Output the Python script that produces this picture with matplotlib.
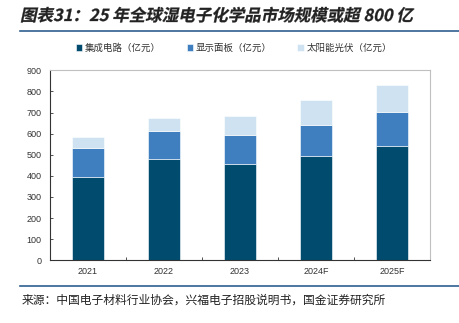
import numpy as np
import matplotlib.pyplot as plt
from matplotlib.lines import Line2D
from matplotlib.patches import Patch, PathPatch
from matplotlib.textpath import TextPath
from matplotlib.font_manager import FontProperties
from matplotlib.transforms import Affine2D

plt.rcParams['font.family'] = ['Noto Sans CJK SC', 'DejaVu Sans']

years = ['2021', '2022', '2023', '2024F', '2025F']
ic = [393, 481, 458, 495, 541]          # 集成电路
panel = [137, 130, 136, 145, 161]       # 显示面板
solar = [54, 63, 91, 119, 128]          # 太阳能光伏
series_names = ['集成电路（亿元）', '显示面板（亿元）', '太阳能光伏（亿元）']
colors = ['#004B6E', '#3F7FBF', '#CFE2F2']
title = '图表31：25 年全球湿电子化学品市场规模或超 800 亿'
source = '来源：中国电子材料行业协会，兴福电子招股说明书，国金证券研究所'

fig = plt.figure(figsize=(4.59, 3.23), dpi=100)
W, H = 459, 323
ax = fig.add_axes([50 / W, 1 - 260.3 / H, 380 / W, 190 / H])

ind = np.arange(len(years))
width = 0.41
bottom = np.zeros(len(years))
for vals, c in zip([ic, panel, solar], colors):
    ax.bar(ind, vals, width=width, bottom=bottom, color=c,
           edgecolor='white', linewidth=0.4, zorder=2)
    bottom += np.array(vals)

ax.set_xlim(-0.5, len(years) - 0.5)
ax.set_ylim(0, 900)
ax.set_yticks(np.arange(0, 901, 100))
ax.set_xticks(ind)
ax.set_xticklabels(years, fontsize=6.5, family='Liberation Sans', color='#333333')
ax.set_xticks(np.arange(0.5, len(years) - 0.5, 1), minor=True)
ax.tick_params(axis='x', which='major', length=0, pad=5)
ax.tick_params(axis='x', which='minor', direction='in', length=2.5, width=0.6, color='#333333')
ax.tick_params(axis='y', direction='in', length=2.5, width=0.6, color='#333333',
               labelsize=6.5, pad=6)
for lab in ax.get_yticklabels():
    lab.set_family('Liberation Sans')
    lab.set_color('#333333')

for s in ['top', 'right']:
    ax.spines[s].set_color('#BFBFBF')
    ax.spines[s].set_linewidth(0.8)
for s in ['left', 'bottom']:
    ax.spines[s].set_color('#333333')
    ax.spines[s].set_linewidth(0.8)

handles = [Patch(facecolor=c, edgecolor='white', linewidth=0.4) for c in colors]
fig.legend(handles, series_names, loc='center', bbox_to_anchor=(234 / W, 1 - 48 / H),
           ncol=3, frameon=False, fontsize=6.8, handlelength=0.7, handleheight=0.7,
           handletextpad=0.3, columnspacing=2.7, labelcolor='#333333')

# slanted (fake italic) title, drawn in pixel coordinates
tp = TextPath((0, 0), title, size=16.5,
              prop=FontProperties(family='Noto Sans CJK SC', weight='bold'))
tr = Affine2D().skew_deg(12, 0).translate(20, H - 21)
fig.add_artist(PathPatch(tp, transform=tr, facecolor='#222222', edgecolor='#222222',
                         linewidth=0.2))

fig.add_artist(Line2D([20 / W, 1], [1 - 31 / H, 1 - 31 / H], color='#2F5F8F', linewidth=1.2))
fig.add_artist(Line2D([20 / W, 1], [1 - 286 / H, 1 - 286 / H], color='#2F5F8F', linewidth=1.2))
fig.text(22 / W, 1 - 300 / H, source,
         fontsize=8.5, color='#222222', va='center', ha='left')

fig.savefig('out.png', dpi=100, facecolor='white')
